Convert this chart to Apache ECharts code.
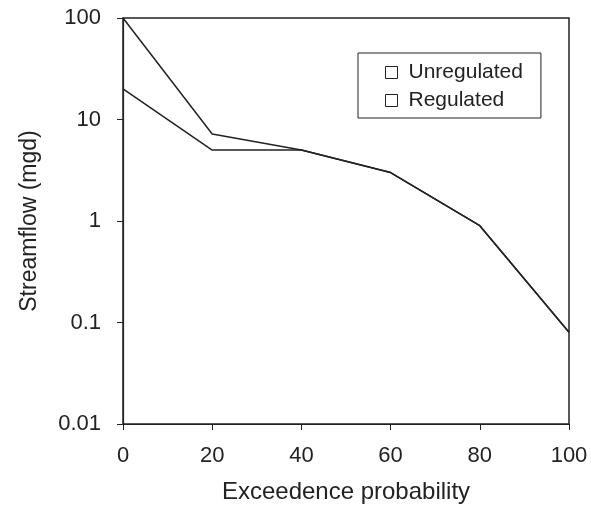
<!DOCTYPE html>
<html>
<head>
<meta charset="utf-8">
<script src="https://cdn.jsdelivr.net/npm/echarts@6/dist/echarts.min.js"></script>
<style>
html,body{margin:0;padding:0;background:#fff;}
#chart{width:591px;height:509px;}
</style>
</head>
<body>
<div id="chart"></div>
<script>
var xValues = [0, 20, 40, 60, 80, 100];
var unregulated = [100, 7.2, 5, 3, 0.9, 0.08];
var regulated = [20, 5, 5, 3, 0.9, 0.08];
var seriesNames = ['Unregulated', 'Regulated'];
var xAxisTitle = 'Exceedence probability';
var yAxisTitle = 'Streamflow (mgd)';

function pairs(xs, ys) { return xs.map(function (x, i) { return [x, ys[i]]; }); }

var ink = '#222';
var font = 'Liberation Sans, Arial, sans-serif';
var chart = echarts.init(document.getElementById('chart'));
chart.setOption({
  backgroundColor: '#fff',
  animation: false,
  grid: { left: 123, right: 22, top: 18, bottom: 82, show: true, borderColor: ink, borderWidth: 1.5, backgroundColor: 'transparent' },
  legend: {
    orient: 'vertical', left: 358, top: 53,
    data: seriesNames,
    icon: 'rect', itemWidth: 12, itemHeight: 12, itemGap: 7,
    padding: [9, 18, 7, 27],
    borderColor: ink, borderWidth: 1,
    itemStyle: { color: '#fff', borderColor: ink, borderWidth: 1 },
    textStyle: { fontFamily: font, fontSize: 21, color: ink, padding: [0, 0, 0, 6] }
  },
  xAxis: {
    type: 'value', min: 0, max: 100, interval: 20,
    name: xAxisTitle, nameLocation: 'middle', nameGap: 56,
    nameTextStyle: { fontFamily: font, fontSize: 24, color: ink },
    axisLine: { lineStyle: { color: ink, width: 1.2 } },
    axisTick: { show: true, length: 6, lineStyle: { color: ink } },
    axisLabel: { fontFamily: font, fontSize: 22, color: ink, margin: 21 },
    splitLine: { show: false }
  },
  yAxis: {
    type: 'log', logBase: 10, min: 0.01, max: 100,
    name: yAxisTitle, nameLocation: 'middle', nameGap: 82,
    nameTextStyle: { fontFamily: font, fontSize: 23, color: ink },
    axisLine: { show: true, lineStyle: { color: ink, width: 1.2 } },
    axisTick: { show: true, length: 6, lineStyle: { color: ink } },
    axisLabel: { fontFamily: font, fontSize: 22, color: ink, margin: 22,
      formatter: function (v) { return String(Number(v.toPrecision(6))); } },
    splitLine: { show: false }, minorTick: { show: false }
  },
  series: [
    { name: seriesNames[0], type: 'line', data: pairs(xValues, unregulated), showSymbol: false, symbol: 'none',
      lineStyle: { color: ink, width: 1.5 }, itemStyle: { color: '#fff', borderColor: ink } },
    { name: seriesNames[1], type: 'line', data: pairs(xValues, regulated), showSymbol: false, symbol: 'none',
      lineStyle: { color: ink, width: 1.5 }, itemStyle: { color: '#fff', borderColor: ink } }
  ]
});
</script>
</body>
</html>
